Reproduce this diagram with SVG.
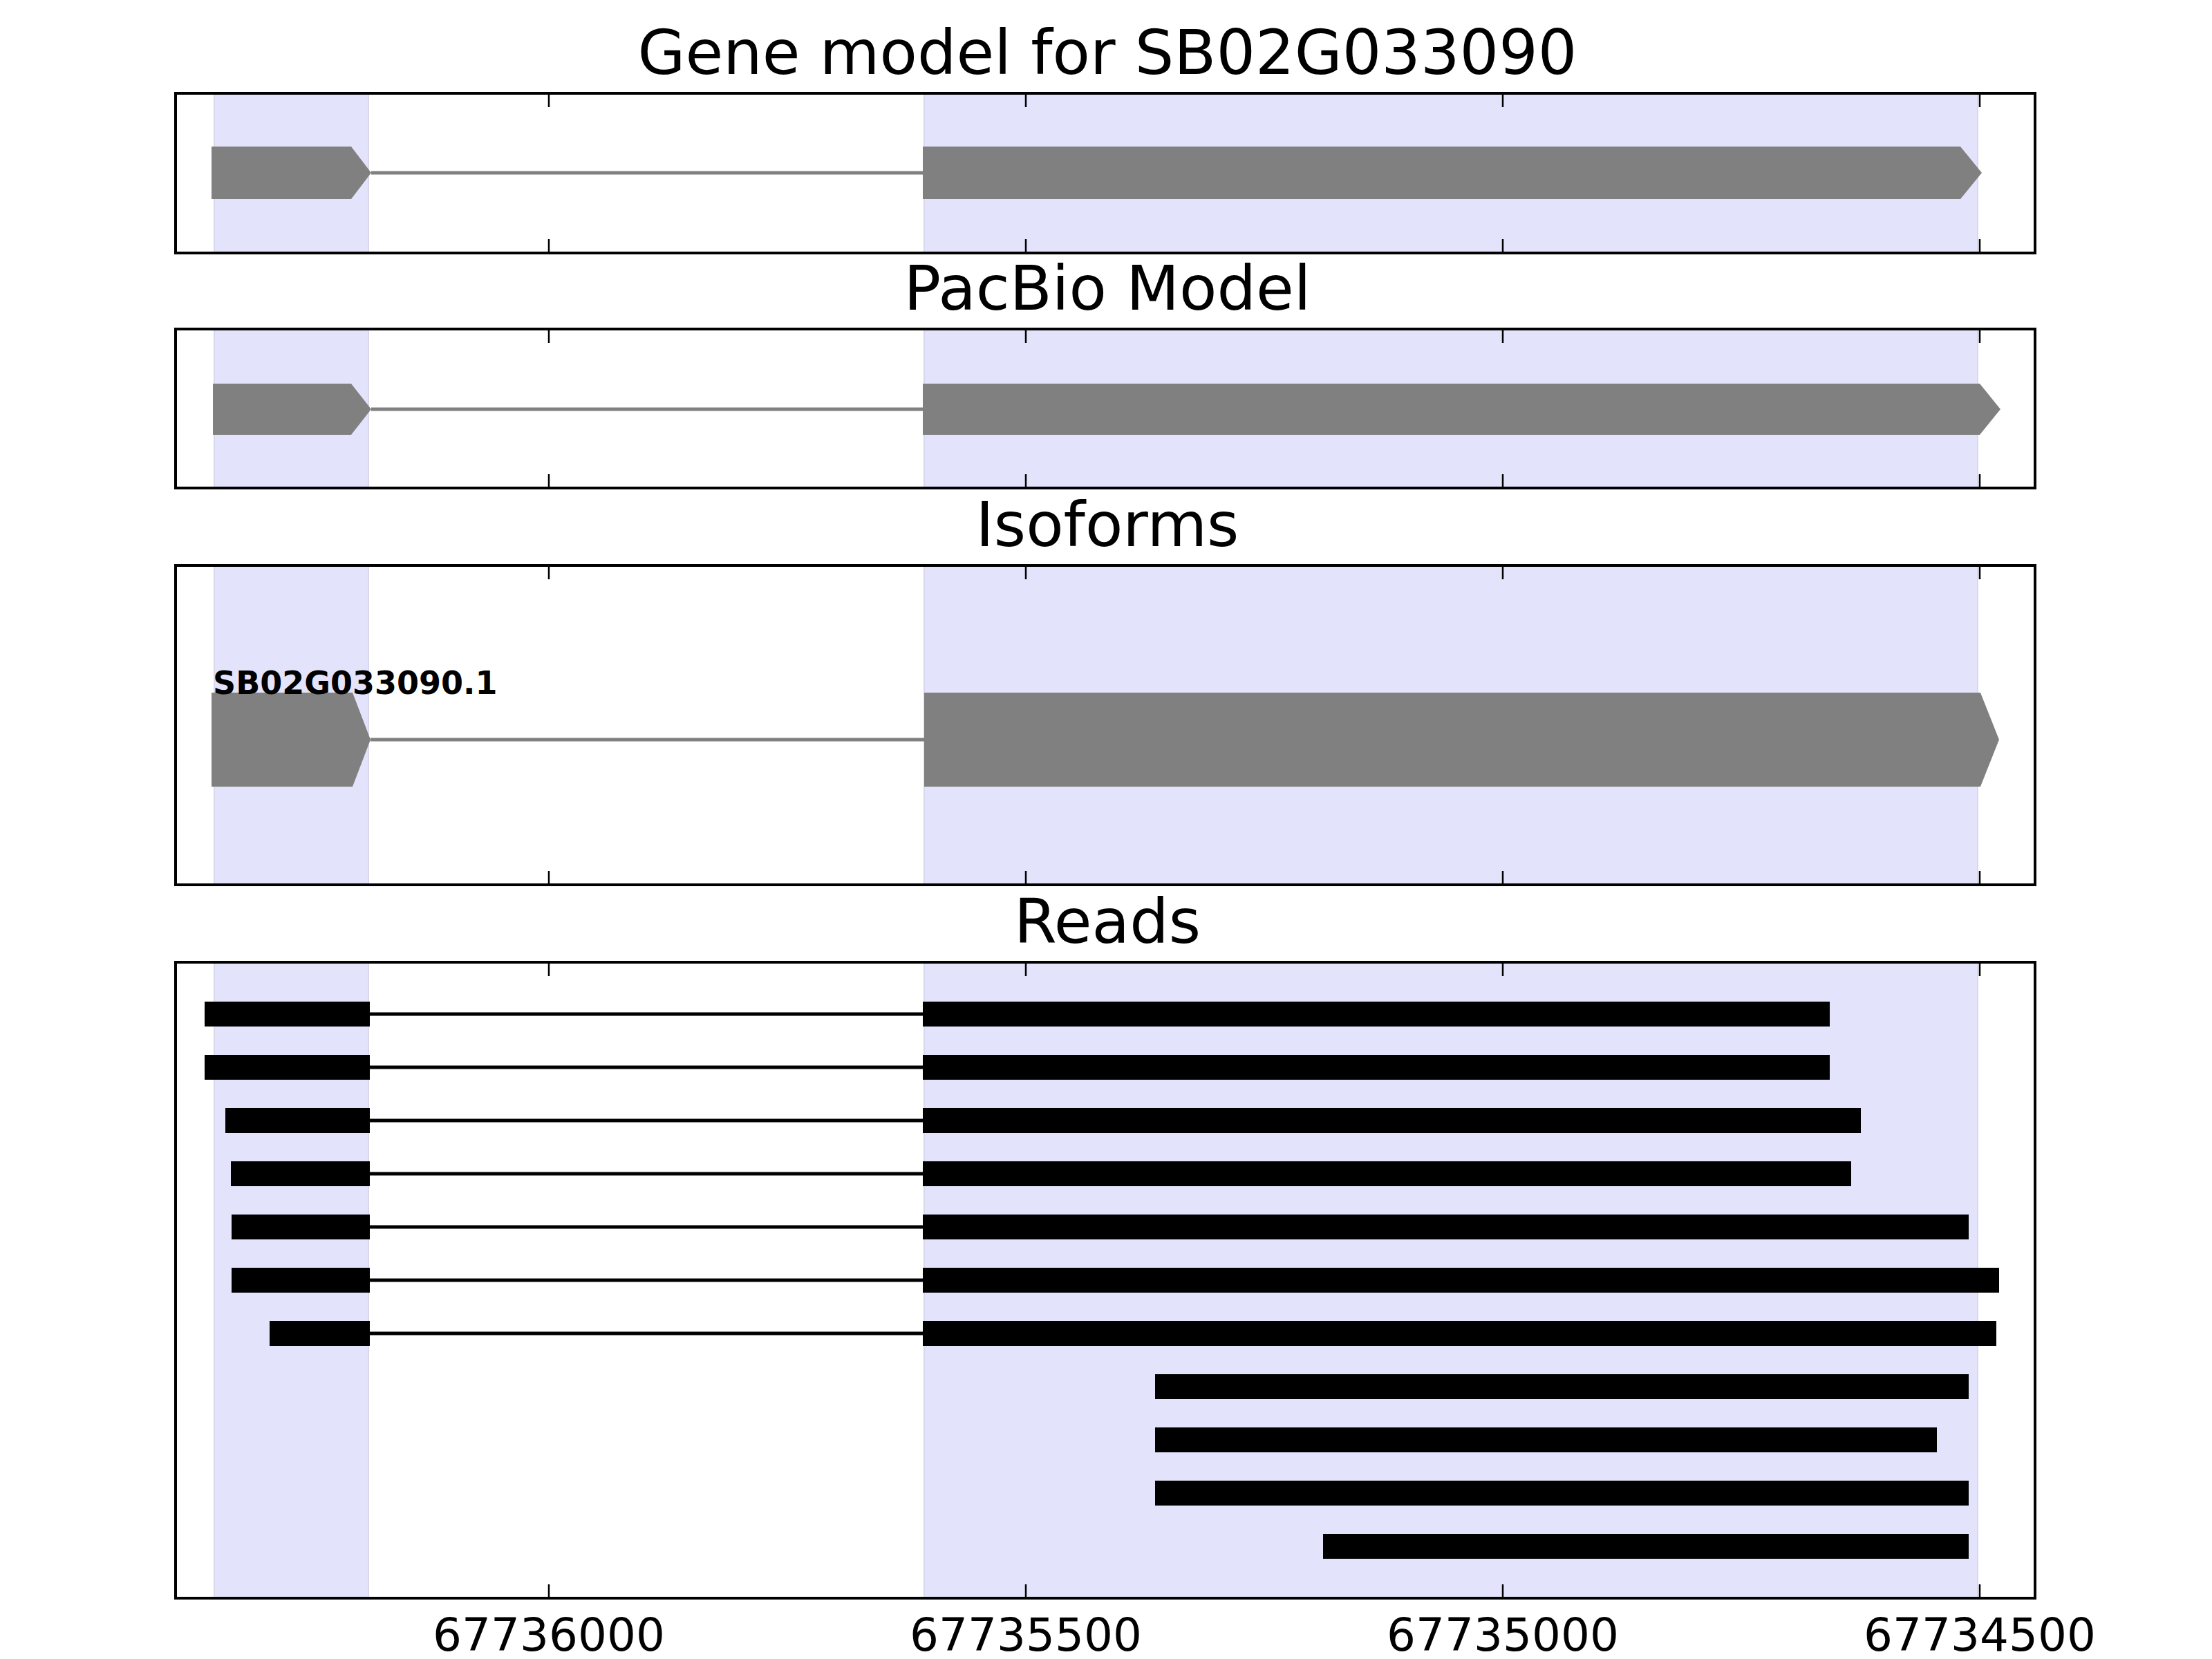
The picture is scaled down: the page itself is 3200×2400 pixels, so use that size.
<svg xmlns="http://www.w3.org/2000/svg" width="3200" height="2400" viewBox="0 0 3200 2400">
<style>
.title{font-family:"DejaVu Sans","Liberation Sans",sans-serif;font-size:89px;fill:#000;text-anchor:middle}
.tick{font-family:"DejaVu Sans","Liberation Sans",sans-serif;font-size:66px;fill:#000;text-anchor:middle}
.iso{font-family:"DejaVu Sans","Liberation Sans",sans-serif;font-size:46px;font-weight:bold;fill:#000}
.frame{fill:none;stroke:#000;stroke-width:4}
.shade{fill:#e3e3fc;stroke:#d8d8ec;stroke-width:2}
.exon{fill:#808080}
.intron{stroke:#808080;stroke-width:5}
.read{fill:#000}
.rline{stroke:#000;stroke-width:5}
.tk{stroke:#000;stroke-width:2.5}
</style>
<rect width="3200" height="2400" fill="#fff"/>

<g id="titles">
<text class="title" x="1602" y="107">Gene model for SB02G033090</text>
<text class="title" x="1602" y="448">PacBio Model</text>
<text class="title" x="1602" y="790">Isoforms</text>
<text class="title" x="1602" y="1364">Reads</text>
</g>

<g id="shading">
<rect class="shade" x="310" y="135" width="223" height="231"/>
<rect class="shade" x="1337" y="135" width="1524" height="231"/>
<rect class="shade" x="310" y="476" width="223" height="230"/>
<rect class="shade" x="1337" y="476" width="1524" height="230"/>
<rect class="shade" x="310" y="818" width="223" height="462"/>
<rect class="shade" x="1337" y="818" width="1524" height="462"/>
<rect class="shade" x="310" y="1392" width="223" height="920"/>
<rect class="shade" x="1337" y="1392" width="1524" height="920"/>
</g>

<g id="gene-model">
<line class="intron" x1="537" y1="250" x2="1335" y2="250"/>
<polygon class="exon" points="306,212 508,212 537,250 508,288 306,288"/>
<polygon class="exon" points="1335,212 2836,212 2867,250 2836,288 1335,288"/>
</g>

<g id="pacbio-model">
<line class="intron" x1="537" y1="592" x2="1335" y2="592"/>
<polygon class="exon" points="308,555 508,555 537,592 508,629 308,629"/>
<polygon class="exon" points="1335,555 2864,555 2894,592 2864,629 1335,629"/>
</g>

<g id="isoform-SB02G033090.1">
<line class="intron" x1="536" y1="1070" x2="1337" y2="1070"/>
<polygon class="exon" points="306,1002 510,1002 536,1070 510,1138 306,1138"/>
<polygon class="exon" points="1337,1002 2865,1002 2892,1070 2865,1138 1337,1138"/>
<text class="iso" x="308" y="1004">SB02G033090.1</text>
</g>

<g id="reads">
<g id="read1"><line class="rline" x1="535" y1="1467" x2="1335" y2="1467"/><rect class="read" x="296" y="1449" width="239" height="36"/><rect class="read" x="1335" y="1449" width="1312" height="36"/></g>
<g id="read2"><line class="rline" x1="535" y1="1544" x2="1335" y2="1544"/><rect class="read" x="296" y="1526" width="239" height="36"/><rect class="read" x="1335" y="1526" width="1312" height="36"/></g>
<g id="read3"><line class="rline" x1="535" y1="1621" x2="1335" y2="1621"/><rect class="read" x="326" y="1603" width="209" height="36"/><rect class="read" x="1335" y="1603" width="1357" height="36"/></g>
<g id="read4"><line class="rline" x1="535" y1="1698" x2="1335" y2="1698"/><rect class="read" x="334" y="1680" width="201" height="36"/><rect class="read" x="1335" y="1680" width="1343" height="36"/></g>
<g id="read5"><line class="rline" x1="535" y1="1775" x2="1335" y2="1775"/><rect class="read" x="335" y="1757" width="200" height="36"/><rect class="read" x="1335" y="1757" width="1513" height="36"/></g>
<g id="read6"><line class="rline" x1="535" y1="1852" x2="1335" y2="1852"/><rect class="read" x="335" y="1834" width="200" height="36"/><rect class="read" x="1335" y="1834" width="1557" height="36"/></g>
<g id="read7"><line class="rline" x1="535" y1="1929" x2="1335" y2="1929"/><rect class="read" x="390" y="1911" width="145" height="36"/><rect class="read" x="1335" y="1911" width="1553" height="36"/></g>
<g id="read8"><rect class="read" x="1671" y="1988" width="1177" height="36"/></g>
<g id="read9"><rect class="read" x="1671" y="2065" width="1131" height="36"/></g>
<g id="read10"><rect class="read" x="1671" y="2142" width="1177" height="36"/></g>
<g id="read11"><rect class="read" x="1914" y="2219" width="934" height="36"/></g>
</g>

<g id="axes">
<rect class="frame" x="254" y="135" width="2690" height="231"/>
<rect class="frame" x="254" y="476" width="2690" height="230"/>
<rect class="frame" x="254" y="818" width="2690" height="462"/>
<rect class="frame" x="254" y="1392" width="2690" height="920"/>
<g id="ticks">
<path class="tk" d="M794,135v20M1484,135v20M2174,135v20M2864,135v20M794,366v-20M1484,366v-20M2174,366v-20M2864,366v-20"/>
<path class="tk" d="M794,476v20M1484,476v20M2174,476v20M2864,476v20M794,706v-20M1484,706v-20M2174,706v-20M2864,706v-20"/>
<path class="tk" d="M794,818v20M1484,818v20M2174,818v20M2864,818v20M794,1280v-20M1484,1280v-20M2174,1280v-20M2864,1280v-20"/>
<path class="tk" d="M794,1392v20M1484,1392v20M2174,1392v20M2864,1392v20M794,2312v-20M1484,2312v-20M2174,2312v-20M2864,2312v-20"/>
</g>
<text class="tick" x="794" y="2388">67736000</text>
<text class="tick" x="1484" y="2388">67735500</text>
<text class="tick" x="2174" y="2388">67735000</text>
<text class="tick" x="2864" y="2388">67734500</text>
</g>
</svg>
